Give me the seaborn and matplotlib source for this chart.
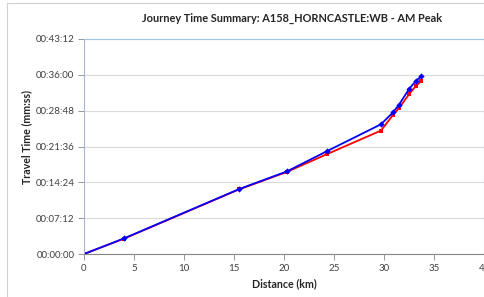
import pandas as pd
import matplotlib
matplotlib.use("Agg")
import matplotlib.pyplot as plt
import seaborn as sns
from matplotlib.ticker import FuncFormatter, MultipleLocator
from matplotlib.patches import Rectangle

# ----------------------------------------------------------
# data
# ----------------------------------------------------------
distance_km = [0, 4.0, 15.5, 20.3, 24.3, 29.7, 30.9, 31.5, 32.5, 33.2, 33.7]
time_blue_s = [0, 188, 782, 996, 1240, 1564, 1708, 1800, 1988, 2088, 2140]
time_red_s = [0, 185, 778, 990, 1204, 1488, 1676, 1760, 1924, 2028, 2080]

title = "Journey Time Summary: A158_HORNCASTLE:WB - AM Peak"

sns.set_theme(style="white")
plt.rcParams["font.family"] = ["Lato", "DejaVu Sans"]

fig = plt.figure(figsize=(4.85, 2.97), dpi=100)
ax = fig.add_axes([84 / 485, 1 - 254 / 297, 400 / 485, 215 / 297])

df_red = pd.DataFrame({"dist": distance_km, "t": time_red_s})
df_blue = pd.DataFrame({"dist": distance_km, "t": time_blue_s})

sns.lineplot(data=df_red, x="dist", y="t", ax=ax, color="#ff0000", lw=1.3,
             marker="s", markersize=3.2, markeredgewidth=0, sort=False)
sns.lineplot(data=df_blue, x="dist", y="t", ax=ax, color="#0000ff", lw=1.3,
             marker="D", markersize=3.2, markeredgewidth=0, sort=False)

ax.set_xlim(0, 40)
ax.set_ylim(0, 2592)
ax.xaxis.set_major_locator(MultipleLocator(5))
ax.yaxis.set_major_locator(MultipleLocator(432))


def hms(v, pos):
    v = int(round(v))
    return "%02d:%02d:%02d" % (v // 3600, (v % 3600) // 60, v % 60)


ax.yaxis.set_major_formatter(FuncFormatter(hms))
ax.xaxis.set_major_formatter(FuncFormatter(lambda v, p: "%d" % v))

ax.grid(axis="y", color="#d9d9d9", lw=0.8)
ax.set_axisbelow(True)

for s in ["top", "right"]:
    ax.spines[s].set_color("#9dc3e6")
    ax.spines[s].set_linewidth(0.8)
ax.spines["left"].set_color("#a6b8cc")
ax.spines["bottom"].set_color("#868686")
ax.spines["left"].set_linewidth(0.8)
ax.spines["bottom"].set_linewidth(0.8)

ax.tick_params(axis="both", which="major", labelsize=7, colors="#404040",
               length=4, width=0.6, direction="out", bottom=True, left=True,
               pad=3)
ax.tick_params(axis="y", color="#868686")
ax.tick_params(axis="x", color="#868686")

ax.set_xlabel("Distance (km)", fontsize=7.7, fontweight="bold", color="#262626",
              labelpad=4)
ax.set_ylabel("Travel Time (mm:ss)", fontsize=7.7, fontweight="bold",
              color="#262626")
ax.yaxis.set_label_coords(-0.13, 0.544)
ax.set_title(title, fontsize=7.9, fontweight="bold", color="#262626", pad=12,
             x=0.52)

# chart area border
fig.patches.append(Rectangle((7 / 485, -0.1), 1.2, 1.1 - 3 / 297 + 0.0,
                             transform=fig.transFigure, fill=False,
                             edgecolor="#d0d0d0", lw=0.8))

fig.savefig("out.png", dpi=100)
